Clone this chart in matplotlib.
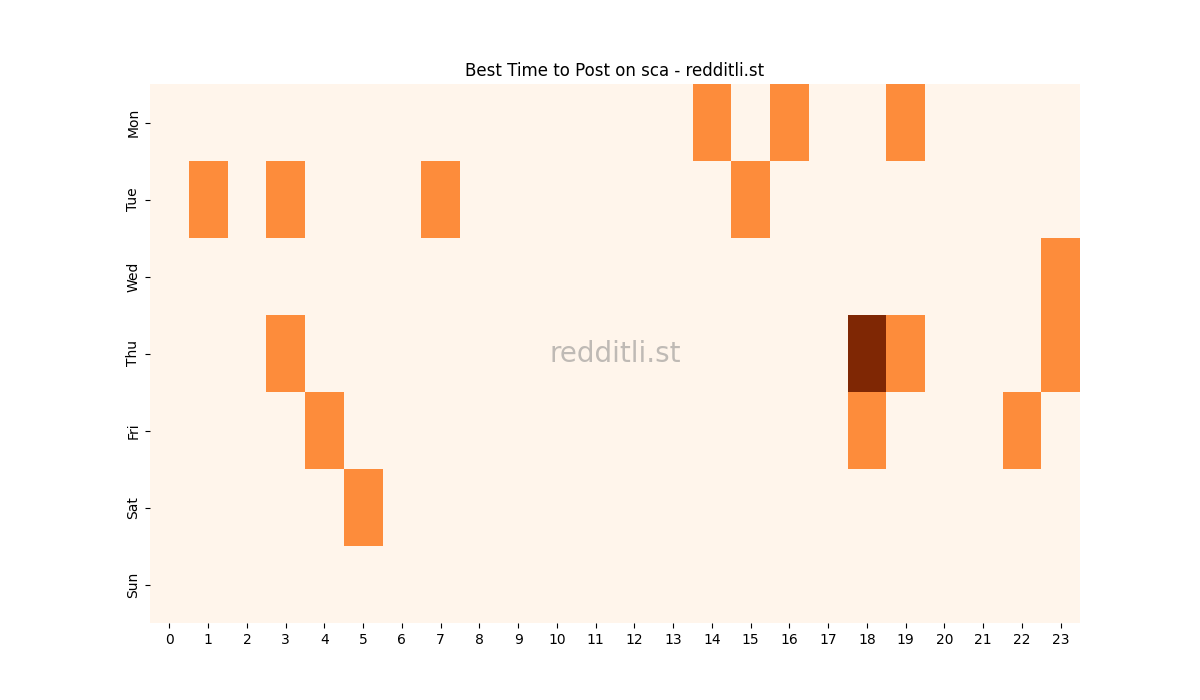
import numpy as np
import matplotlib
matplotlib.use("Agg")
import matplotlib.pyplot as plt
import seaborn as sns

days = ["Mon", "Tue", "Wed", "Thu", "Fri", "Sat", "Sun"]
hours = list(range(24))

# hour -> count of top posts, per day
mon = {14: 1, 16: 1, 19: 1}
tue = {1: 1, 3: 1, 7: 1, 15: 1}
wed = {23: 1}
thu = {3: 1, 18: 2, 19: 1, 23: 1}
fri = {4: 1, 18: 1, 22: 1}
sat = {5: 1}
sun = {}

grid = np.zeros((len(days), len(hours)))
for i, row in enumerate([mon, tue, wed, thu, fri, sat, sun]):
    for h, v in row.items():
        grid[i, h] = v

fig, ax = plt.subplots(figsize=(12, 7), dpi=100)
sns.heatmap(grid, cmap="Oranges", cbar=False, ax=ax,
            xticklabels=hours, yticklabels=days)
ax.set_yticklabels(days, rotation=90, va="center")
ax.set_xticklabels(hours, rotation=0)
ax.set_title("Best Time to Post on sca - redditli.st")
ax.text(0.5, 0.5, "redditli.st", transform=ax.transAxes, fontsize=20,
        color="gray", alpha=0.5, ha="center", va="center")

fig.savefig("out.png")
